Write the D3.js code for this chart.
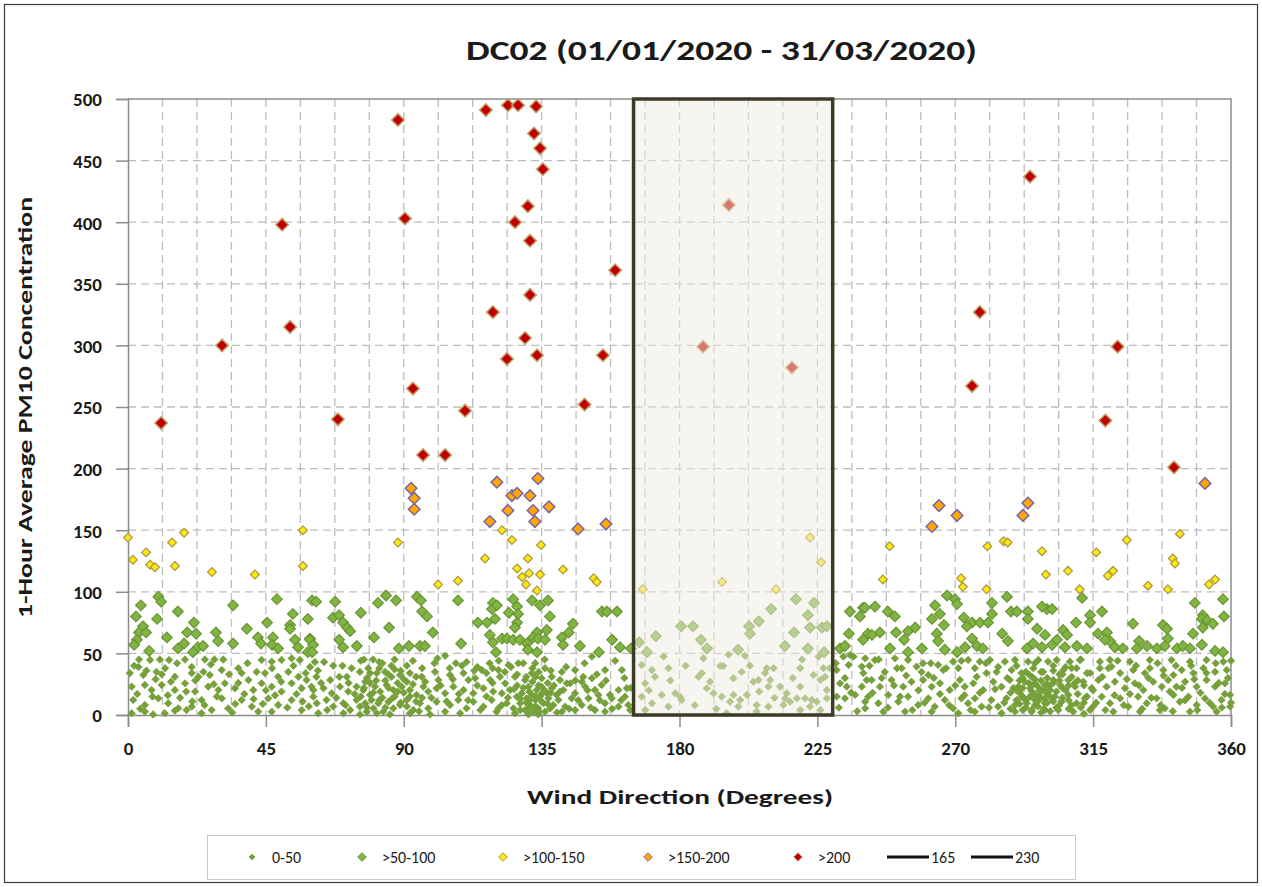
<!DOCTYPE html>
<html>
<head>
<meta charset="utf-8">
<script src="https://cdn.jsdelivr.net/npm/d3@7"></script>
<style>
  body { margin: 0; background: #fff; }
  text { font-family: Carlito, Lato, "Liberation Sans", sans-serif; fill: #1a1a1a; }
</style>
</head>
<body>
<div id="chart"></div>
<script>
// values: [wind direction (deg), PM10]
var low = [ // 0-50
  [3.6,45],[7.2,44.7],[10.4,45],[13.4,44.7],[18.6,45],[25.1,45],[28.2,45],[31.1,45],[20.8,39],[12.1,38],[3.4,39],[0.6,34],[5,32.5],[9.3,35],[15.3,31],[20.8,34],[24.6,35],[26.7,32.5],[30.6,36.5],[36,38],[37.1,34],
  [43.6,44.7],[46.9,43.3],[50.1,44.7],[53.4,46],[56.1,44.7],[59.4,39],[44.7,34],[49,31],[52.3,35],[55.6,31],[58.3,28.4],[1.2,23],[5.5,24.4],[7.7,20.3],[11,24.4],[15.3,20.3],[18.6,25.7],[21.9,19],[26.2,23],[29.5,20.3],
  [31.6,25.7],[34.9,21.7],[39.3,28.4],[40.9,20.3],[43.6,25.7],[46.9,23],[50.1,19],[53.4,25.7],[56.7,21.7],[59.9,23],[1.7,12.2],[5.5,8.1],[9.9,13.5],[13.1,9.5],[16.4,5.4],[19.1,4],[20.8,6.8],[24,12.2],[27.3,4],
  [30.6,13.5],[32.7,5.4],[37.1,12.2],[40.4,6.8],[42.5,2.7],[45.8,13.5],[49,8.1],[53.4,12.2],[56.7,4],[60.5,14.9],[1.2,1.4],[8.2,0.5],[12,1.4],[15.3,3.5],[5.5,2.7],[24,1.4],[46.9,2.7],[3,17],[9,29],[17,14],[22,28],[35,9],[38,17],[48,16],[57,11],
  [2,40],[6,36],[8,15],[11,33],[14,27],[16,42],[19,19],[23,31],[25,8],[27,41],[29,15],[33,33],[34,2],[36,26],[39,42],[41,13],[42,35],[45,20],[47,38],[50,27],[52,6],[54,40],[55,17],[58,34],[59,7],[4,5],[13,16],[21,11],[28,25],[44,9],
  [61,43],[64,43],[70,40],[77,45],[80,45],[82,43],[87,45],[101,46],[103.5,48],[107,42],[110.5,43],[114,39],[115.5,36.5],[117,34],[119,38],[61.5,31],[66,28.4],[71.4,31],[75.7,35],[78.4,38],[81.2,34],[83.9,35],[86,31],
  [88.8,32.5],[92,34],[95.9,31],[100.2,35],[101.3,28.4],[105.1,32.5],[109.5,34],[111.1,28.4],[113.3,29.8],[118.2,28.4],[60.5,20.3],[63.8,21.7],[66.5,17.6],[69.2,23],[71.9,19],[74.6,23],[76.8,20.3],[77.4,27],
  [79,16.3],[80.6,23],[82.3,19],[84.4,24.4],[86.6,20.3],[89.3,23],[92,20.3],[94.2,16.3],[96.4,23],[98,19],[100.7,21.7],[103.5,17.6],[106.2,23],[109.5,20.3],[112.7,17.6],[116,21.7],[119.2,19],[61.6,9.5],[64.8,12.2],
  [67,6.8],[70.3,9.5],[72.5,4],[74.6,12.2],[75.7,6.8],[77.4,9.5],[77.9,2.7],[79.5,12.2],[80.1,5.4],[81.7,9.5],[83.3,2.7],[85,10.8],[86.6,5.4],[88.8,8.1],[91,12.2],[93.1,4],[95.3,9.5],[98,5.4],[100.7,10.8],[103.5,2.7],
  [105.1,8.1],[107.8,12.2],[110.5,5.4],[112.7,10.8],[116,6.8],[118.7,12.2],[120.3,2.7],[62.1,1.4],[70.3,1.4],[75.7,0.5],[81.2,1.4],[85.5,0.5],[92,1.4],[98.6,0.5],[108.4,1.4],
  [78,30],[79,26],[80,18],[83,14],[84,28],[85,22],[87,15],[88,26],[90,18],[91,27],[93,25],[96,14],[82,38],[86,40],[89,36],[76,15],[77,22],[91,7],[94,11],
  [62,36],[63,26],[65,4],[67,40],[68,14],[69,31],[71,8],[72,26],[73,38],[74,17],[76,44],[78,6],[79,34],[81,28],[82,12],[83,42],[84,6],[85,33],[86,13],[87,37],[88,19],[89,10],[90,29],[91,40],[92,15],[93,44],[94,31],
  [95,3],[96,38],[97,27],[99,14],[100,42],[102,24],[104,11],[105,38],[106,29],[108,17],[109,40],[111,12],[113,36],[114,24],[115,4],[117,15],[118,42],[119,26],
  [120.9,36.5],[124.2,40.6],[127.4,42],[132.9,42],[136.1,38],[141.6,35],[145.9,36.5],[148.6,31],[151.4,47.4],[155.7,36.5],[161.2,36.5],[151.4,29.8],[148.1,27],[144.3,25.7],[141,28.4],[138.3,31],[135,29.8],[131.8,34],
  [129.6,28.4],[126.3,31],[123.1,25.7],[121.4,31],[130.7,23],[133.4,20.3],[135,23],[136.7,17.6],[138.3,21.7],[139.9,16.3],[142.1,20.3],[143.2,25.7],[145.9,17.6],[149.2,23],[152.4,20.3],[154.6,24.4],[157.3,16.3],
  [160.1,20.3],[162.8,21.7],[122,17.6],[124.7,20.3],[126.9,14.9],[128.5,17.6],[130.1,13.5],[131.8,16.3],[132.9,12.2],[134.5,14.9],[135.6,9.5],[137.2,13.5],[138.8,8.1],[140.5,12.2],[142.7,6.8],[144.8,13.5],[148.1,8.1],
  [150.3,13.5],[153.5,16.3],[155.7,9.5],[157.9,13.5],[160.1,6.8],[162.2,14.9],[163.9,4],[120.9,5.4],[123.6,9.5],[125.8,5.4],[128,9.5],[129.6,4],[131.2,8.1],[132.3,2.7],[133.9,5.4],[136.1,2.7],[137.8,5.4],[141.6,2.7],
  [145.9,4],[152.4,4],[155.7,2.7],[163.3,8.1],[133.9,0.5],[130.7,0.5],[126.3,1.4],
  [129,22],[131,19],[132,27],[133,15],[134,24],[135,11],[136,20],[137,26],[130,10],[131,6],[133,31],[134,3],[138,18],[127,24],[128,13],
  [121,44],[122,8],[123,35],[124,14],[125,39],[126,21],[127,33],[128,4],[129,42],[130,31],[131,12],[132,38],[133,7],[134,35],[135,17],[136,45],[137,9],[138,36],[139,24],[140,2],[141,19],[143,39],[144,5],[146,28],
  [147,12],[149,42],[150,20],[151,6],[153,33],[154,12],[156,28],[158,5],[159,44],[161,12],[162,30],[164,22],
  [167.7,40.6],[171,36.5],[172,31],[176.4,38],[174.8,47.4],[168.8,25.7],[178.6,17.6],[174.2,16.3],[167.7,14.9],[180.2,14.9],[171,9.5],[176.4,6.8],[168.8,4],
  [187.8,46],[193.3,39.8],[194.3,39.8],[200.3,35],[197.6,29.8],[186.2,31],[187.3,34],[196,49],[201.4,48],[208.5,38],[210.7,38],[207.9,34],[209.6,28.4],[205.8,28.4],[204.1,27],[212.8,23],[209,23],[219.4,38],[219.4,23],
  [223.7,32.5],[225.4,47.4],[227,38],[226,28.4],[227.5,31],[228.1,20.3],[188.9,21.7],[191.1,17.6],[193.8,14.9],[197.6,16.3],[196.5,10.8],[199.8,12.2],[202,16.3],[205.2,8.1],[209,6.8],[215,17.6],[214.5,13.5],[216.1,10.8],
  [213.9,8.1],[218.3,13.5],[221,13.5],[223.2,12.2],[224.8,10.8],[222.6,6.8],[219.4,4],[228.1,13.5],[180.7,12.2],[199.2,6.8],[205.2,2.7],[195.4,1.4],
  [170,20],[177,28],[182,40],[185,8],[190,27],[192,5],[203,40],[206,19],[211,14],[217,30],[220,45],[226,4],[229,38],
  [231.3,36.5],[233.5,47.4],[235.7,48.7],[235.2,40.6],[236.8,47.4],[239.5,39.3],[240.6,46],[232.4,25.7],[234.6,23],[239.5,23],[241.1,28.4],[231.3,14.9],[234,13.5],[237.3,16.3],[240.6,10.8],[240.6,5.4],
  [243.8,44.7],[250.3,46],[254.6,44.7],[259.5,42],[264.4,40.6],[269.3,43.3],[274.2,44.7],[278,43.3],[281.3,44.7],[286.2,43.3],[289.5,44.7],[293.8,43.3],[297.1,44.7],[300.3,43.3],[247,35],[252.5,38],[257.4,39.3],
  [261.2,32.5],[266.1,36.5],[271,38],[276.4,38],[280.2,34],[283.5,35],[288.4,36.5],[291.6,34],[295.5,38],[298.7,35],[242.7,28.4],[245.4,23],[249.2,28.4],[253,23],[255.7,27],[259.5,28.4],[262.3,23],[265,25.7],
  [268.2,20.3],[271.5,28.4],[273.1,23],[275.9,25.7],[279.1,20.3],[282.4,27],[285.1,23],[287.8,28.4],[290.6,23],[292.7,27],[294.4,21.7],[296,25.7],[297.6,20.3],[299.3,24.4],[300.9,20.3],[241.6,14.9],[244.9,9.5],
  [248.1,16.3],[251.4,10.8],[254.6,14.9],[257.9,8.1],[261.2,13.5],[263.3,6.8],[266.6,12.2],[269.3,5.4],[272,13.5],[274.2,9.5],[276.4,13.5],[278.6,6.8],[281.8,12.2],[284,6.8],[286.7,13.5],[289.5,8.1],[291.6,14.9],
  [293.3,9.5],[294.9,16.3],[296,12.2],[297.6,14.9],[299.3,9.5],[301.4,13.5],[246.5,2.7],[253.6,2.7],[262.3,2.7],[271,1.4],[276.4,2.7],[285.1,1.4],[289.5,2.7],[294.9,2.7],[299.3,4],
  [291,18],[292,22],[293,12],[294,26],[295,19],[296,8],[297,15],[298,28],[299,5],[300,17],[301,24],[302,11],[303,19],[295,31],[297,23],[299,13],[301,3],[293,6],[296,29],[304,8],[292,15],[298,19],[300,10],[302,26],
  [231,42],[232,6],[234,30],[236,18],[238,3],[240,34],[242,40],[243,18],[245,45],[246,30],[248,6],[250,24],[251,38],[252,15],[254,32],[256,4],[258,20],[259,35],[260,10],[262,42],[263,30],[265,17],[267,38],[268,8],
  [270,24],[272,44],[273,16],[275,4],[277,31],[278,18],[280,42],[281,6],[283,21],[284,39],[286,10],[287,30],[288,18],[290,40],[291,28],[292,4],[293,35],[294,14],[295,24],[296,42],[297,7],[298,35],[299,21],[300,30],
  [288,5],[290,12],[289,22],[291,9],[294,33],[295,4],[297,11],[298,2],[300,25],[301,15],[302,36],[303,6],[304,28],[305,14],[306,39],[307,24],[308,8],[296,17],[292,30],[290,20],
  [303.1,44.7],[307.4,43.3],[310.7,44.7],[317.2,43.3],[320.5,44.7],[327,43.3],[333.5,44.7],[340.6,44.7],[346.6,43.3],[352,44.7],[357.5,43.3],[305.3,36.5],[309.6,38],[314,34],[317.2,38],[321,39.3],[323.8,34],
  [328.1,36.5],[331.9,34],[333.5,38],[337.9,36.5],[341.2,32.5],[343.9,36.5],[347.7,34],[351,38],[354.8,35],[358.6,36.5],[302,28.4],[304.2,24.4],[306.9,28.4],[309.1,23],[311.8,27],[314.5,21.7],[316.7,28.4],[319.4,23],
  [322.1,27],[325.4,21.7],[328.6,25.7],[331.4,20.3],[334.6,27],[337.4,23],[339.5,28.4],[342.2,23],[345,27],[348.8,23],[352,28.4],[354.8,23],[358,25.7],[302.5,14.9],[304.7,10.8],[306.9,16.3],[309.6,9.5],[312.3,13.5],
  [315,6.8],[317.8,14.9],[320.5,9.5],[323.8,13.5],[326.5,6.8],[329.7,14.9],[332.5,9.5],[335.7,13.5],[338.4,5.4],[341.2,16.3],[343.3,10.8],[346.1,14.9],[348.8,8.1],[351.5,13.5],[354.2,6.8],[356.9,12.2],[359.7,16.3],
  [303.6,4],[308.5,2.7],[314,4],[321.6,2.7],[330.3,2.7],[336.8,4],[346.6,2.7],[355.3,2.7],[359.7,6.8],[306,20],[307,12],[308,31],[310,17],[311,6],[312,24],[313,15],[305,33],[309,26],[312,10],
  [302,40],[304,33],[305,22],[307,5],[308,38],[310,28],[311,45],[312,1],[313,34],[315,20],[316,10],[318,31],[319,4],[320,38],[322,16],[323,44],[325,8],[326,29],[327,17],[329,40],[330,24],[331,5],[333,30],[334,14],
  [336,42],[337,8],[338,32],[340,19],[341,3],[342,40],[344,22],[345,12],[347,40],[348,29],[349,4],[350,18],[352,34],[353,10],[355,42],[356,26],[357,6],[358,17],[359,30],[360,10],[360,44]
];

var mid = [ // >50-100
  [9.9,96],[10.8,92],[4.2,89],[16.3,84],[2.6,80],[9.5,78],[21.5,75],[4.9,72],[3.6,67],[5.9,67],[19.3,67],[22.2,66],[28.7,67],[12.7,63],[29.4,60],[2.9,61],[2,57],[18.3,58],[16.3,54],[22.8,55],[24.5,56],[6.9,52],
  [21.2,51],[34.3,89],[34.3,58],[38.8,70],[48.6,94],[45.4,75],[42.4,63],[43.4,58],[47.3,63],[47,57],[49,54],[53.8,82],[52.9,73],[52.9,70],[58.7,78],[59.4,62],[54.5,61],[55.5,55],[60.1,93],[58.7,51],
  [61.4,92],[67.6,92],[66.9,79],[68.9,81],[76,83],[70.2,75],[71.5,71],[72.5,68],[68.9,61],[70.2,55],[74.7,56],[59.4,61],[60.4,57],[60.1,51],[81.6,91],[84.2,97],[87.5,93],[85.2,71],[80.3,63],[88.4,54],[91.7,56],
  [95.3,56],[96.9,56],[94.3,96],[95.6,93],[96,84],[97.6,80],[99.5,67],[107.7,93],[108.7,58],[119.1,91],[118.8,86],[114.2,75],[117.2,75],[119.8,78],[118.1,65],[119.1,59],[120.1,51],
  [125.7,94],[127,88],[124.3,83],[127.3,82],[127,75],[126.3,71],[120.4,89],[131.9,93],[137.1,93],[134.5,89],[137.7,80],[145.2,74],[143.9,67],[141.6,63],[142,57],[147.5,56],[154.7,84],[156.3,84],[159.6,84],
  [133.5,67],[132.2,63],[133.8,62],[136.7,69],[136.1,61],[122.1,62],[123.7,62],[125.7,61],[127.9,61],[130.2,58],[130.5,53],[133.5,51],[158,61],[160.6,55],[153.7,51],[164.2,54],
  [166.8,59],[172.3,64],[169.4,51],[180.5,72],[184.4,72],[187,61],[189,54],[199.1,53],[202.7,72],[203,66],[205.9,76],[209.9,86],[218,94],[223.9,91],[221.9,81],[222.6,71],[217.4,67],[214.4,56],[221.9,54],[226.5,71],
  [228.1,72],[227.2,51],[235.6,84],[239.9,87],[238.9,80],[235.3,66],[239.9,61],[241.5,66],[232.4,54],[234,56],
  [243.8,88],[240.5,87],[248,84],[250.3,80],[254.6,68],[256.9,71],[250.7,67],[245.4,67],[242.8,65],[253.3,61],[248.7,54],[254.6,51],[259.1,54],[267.3,97],[269.9,94],[270.6,90],[263.4,89],[265,82],[262.4,78],
  [266.3,73],[264,66],[264.4,60],[266.6,53],[270.6,51],[272.8,79],[275.5,75],[273.8,72],[278.1,75],[280.7,75],[282,82],[275.5,62],[273.2,55],[277.1,56],[279,54],[282,91],[286.9,96],[285.3,66],[287.2,60],[288.2,84],
  [290.1,84],[293.7,84],[293.7,78],[299.9,86],[298.3,88],[296.7,70],[299.3,65],[295.4,58],[293.4,54],[298.3,55],[301.6,57],
  [301.6,86],[311.4,95],[314,81],[317.9,84],[314,75],[309.4,75],[305.2,69],[306.5,65],[303.2,61],[305.8,55],[309.7,56],[313,54],[316.6,66],[319.5,67],[320.5,60],[318.9,61],[322.1,55],[324.7,54],[328,74],[330,60],
  [329.3,54],[332.6,56],[335.8,54],[337.8,73],[339.1,70],[339.4,62],[338.4,56],[342.4,54],[344.3,56],[346.6,54],[348.2,91],[347.6,66],[350.8,81],[350.5,78],[352.2,77],[350.8,71],[354.1,74],[357.4,94],[357.7,80],
  [350.5,57],[354.8,52],[357.4,51]
];

var yel = [ // >100-150
  [0,144],[1.6,126],[5.9,132],[7.2,122],[8.8,120],[14.4,140],[18.3,148],[15.3,121],[27.4,116],[41.4,114],[57.1,150],[57.1,121],[88.1,140],[101.2,106],[107.7,109],[116.5,127],[122.1,150],[125.3,142],[127,119],
  [128.6,112],[129.9,106],[130.5,127],[130.9,115],[133.5,101],[134.5,114],[134.8,138],[142,118],[152,111],[153,108],[168,102],[193.9,108],[211.5,102],[222.6,144],[226.2,124],[248.6,137],[246.4,110],[271.9,111],
  [272.5,104],[280.2,102],[280.5,137],[285.8,141],[287.1,140],[298.3,133],[299.6,114],[306.8,117],[310.6,102],[316,132],[319.8,113],[321.5,117],[326,142],[332.9,105],[339.4,102],[341,127],[341.7,123],[343.3,147],
  [352.8,106],[354.8,110]
];

var org = [ // >150-200
  [92.4,184],[93.4,176],[93.4,167],[118.1,157],[120.4,189],[124,166],[125.3,178],[127,180],[131.2,178],[132.2,166],[132.8,157],[133.8,192],[137.4,169],[146.9,151],[156,155],[262.4,153],[264.7,170],[270.6,162],
  [292.1,162],[293.7,172],[351.5,188]
];

var red = [ // >200
  [10.8,237],[30.7,300],[50.3,398],[52.9,315],[68.5,240],[88.1,483],[90.4,403],[93,265],[96.3,211],[103.5,211],[110,247],[116.8,491],[119.1,327],[124,495],[127.3,495],[123.7,289],[126.3,400],[130.5,413],
  [131.2,385],[131.2,341],[129.6,306],[133.2,494],[132.5,472],[134.5,460],[135.4,443],[133.5,292],[159,361],[149,252],[155,292],[196.1,414],[187.7,299],[216.7,282],[294.4,437],[278,327],[275.5,267],[323,299],
  [319,239],[341.4,201]
];

var bounds = [165, 230];
var xTicks = [0, 45, 90, 135, 180, 225, 270, 315, 360];
var yTicks = [0, 50, 100, 150, 200, 250, 300, 350, 400, 450, 500];
var legendNames = ["0-50", ">50-100", ">100-150", ">150-200", ">200", "165", "230"];

var width = 1262, height = 887;
var plotLeft = 128, plotRight = 1231, plotTop = 99, plotBottom = 715;

var svg = d3.select("#chart").append("svg")
    .attr("width", width)
    .attr("height", height);

// outer frame
svg.append("rect")
    .attr("x", 4.5).attr("y", 4.5)
    .attr("width", 1253).attr("height", 878)
    .attr("fill", "#fff")
    .attr("stroke", "#3a3a3a")
    .attr("stroke-width", 1.2);

var x = d3.scaleLinear().domain([0, 360]).range([plotLeft, plotRight]);
var y = d3.scaleLinear().domain([0, 500]).range([plotBottom, plotTop]);

// grid: vertical every 11.25 deg, horizontal every 50
var grid = svg.append("g");
grid.selectAll("line.v")
    .data(d3.range(1, 32).map(function (i) { return i * 11.25; }))
    .enter().append("line")
    .attr("x1", function (d) { return x(d); })
    .attr("x2", function (d) { return x(d); })
    .attr("y1", plotTop).attr("y2", plotBottom)
    .attr("stroke", "#bdbdbd")
    .attr("stroke-width", 1.3)
    .attr("stroke-dasharray", "8,5");
grid.selectAll("line.h")
    .data(yTicks.slice(1, -1))
    .enter().append("line")
    .attr("x1", plotLeft).attr("x2", plotRight)
    .attr("y1", function (d) { return y(d); })
    .attr("y2", function (d) { return y(d); })
    .attr("stroke", "#bdbdbd")
    .attr("stroke-width", 1.3)
    .attr("stroke-dasharray", "8,5");

// plot border top/right
svg.append("path")
    .attr("d", "M" + plotLeft + "," + plotTop + "H" + plotRight + "V" + plotBottom)
    .attr("fill", "none")
    .attr("stroke", "#8c8c8c")
    .attr("stroke-width", 1.5);

// axes
var xAxis = d3.axisBottom(x).tickValues(xTicks).tickSize(12).tickPadding(15);
var gx = svg.append("g")
    .attr("transform", "translate(0," + plotBottom + ")")
    .call(xAxis);

var yAxis = d3.axisLeft(y).tickValues(yTicks).tickSize(12).tickPadding(14);
var gy = svg.append("g")
    .attr("transform", "translate(" + plotLeft + ",0)")
    .call(yAxis);

[gx, gy].forEach(function (g) {
    g.select(".domain").attr("stroke", "#8c8c8c").attr("stroke-width", 1.5);
    g.selectAll(".tick line").attr("stroke", "#8c8c8c").attr("stroke-width", 1.5);
    g.selectAll(".tick text")
        .attr("font-family", "Carlito, Lato, sans-serif")
        .attr("font-size", 19)
        .attr("font-weight", "bold")
        .attr("fill", "#1a1a1a");
});
gy.selectAll(".tick text").attr("dy", "0.36em");

// diamond path of half-width r
function diamond(r) {
    return "M0," + (-r) + "L" + r + ",0L0," + r + "L" + (-r) + ",0Z";
}

var series = [
    { data: low, r: 3.7, fill: "#76a03a", stroke: "#76a03a", sw: 0.8 },
    { data: mid, r: 5.3, fill: "#80b443", stroke: "#6a9432", sw: 1.2 },
    { data: yel, r: 4.4, fill: "#ffe617", stroke: "#a8963a", sw: 1.2 },
    { data: org, r: 5.8, fill: "#ffa800", stroke: "#7d62a6", sw: 1.5 },
    { data: red, r: 6.3, fill: "#c00000", stroke: "#c2a16a", sw: 1.5 }
];

series.forEach(function (s) {
    svg.append("g").selectAll("path")
        .data(s.data)
        .enter().append("path")
        .attr("transform", function (d) { return "translate(" + x(d[0]) + "," + y(d[1]) + ")"; })
        .attr("d", diamond(s.r))
        .attr("fill", s.fill)
        .attr("stroke", s.stroke)
        .attr("stroke-width", s.sw);
});

// shaded sector between the two bounds
svg.append("rect")
    .attr("x", x(bounds[0]))
    .attr("y", y(500))
    .attr("width", x(bounds[1]) - x(bounds[0]))
    .attr("height", y(0) - y(500))
    .attr("fill", "#efebdf")
    .attr("fill-opacity", 0.5)
    .attr("stroke", "#3d3a26")
    .attr("stroke-width", 3.5);

// title (stretched to the width it takes in the picture)
svg.append("text")
    .attr("x", 466).attr("y", 60)
    .attr("font-size", 28)
    .attr("font-weight", "bold")
    .attr("textLength", 511)
    .attr("lengthAdjust", "spacingAndGlyphs")
    .text("DC02 (01/01/2020 - 31/03/2020)");

// axis titles
svg.append("text")
    .attr("x", 527).attr("y", 804)
    .attr("font-size", 20)
    .attr("font-weight", "bold")
    .attr("textLength", 306)
    .attr("lengthAdjust", "spacingAndGlyphs")
    .text("Wind Direction (Degrees)");

svg.append("text")
    .attr("transform", "translate(32,618) rotate(-90)")
    .attr("font-size", 20)
    .attr("font-weight", "bold")
    .attr("textLength", 421)
    .attr("lengthAdjust", "spacingAndGlyphs")
    .text("1-Hour Average PM10 Concentration");

// legend
var legend = svg.append("g");
legend.append("rect")
    .attr("x", 207.5).attr("y", 835.5)
    .attr("width", 868).attr("height", 44)
    .attr("fill", "#fff")
    .attr("stroke", "#c8c8c8");

var legendX = [252, 362, 503, 648, 798, 887, 971];
var ly = 857;
legendNames.forEach(function (name, i) {
    var g = legend.append("g");
    if (i < 5) {
        var s = series[i];
        g.append("path")
            .attr("transform", "translate(" + legendX[i] + "," + ly + ")")
            .attr("d", diamond(i == 0 ? 2.8 : 4.3))
            .attr("fill", s.fill)
            .attr("stroke", s.stroke)
            .attr("stroke-width", 1);
        g.append("text")
            .attr("x", legendX[i] + 20).attr("y", ly + 5.5)
            .attr("font-size", 16)
            .text(name);
    } else {
        g.append("line")
            .attr("x1", legendX[i]).attr("x2", legendX[i] + 42)
            .attr("y1", ly).attr("y2", ly)
            .attr("stroke", "#111")
            .attr("stroke-width", 3);
        g.append("text")
            .attr("x", legendX[i] + 44).attr("y", ly + 5.5)
            .attr("font-size", 16)
            .text(name);
    }
});
</script>
</body>
</html>
